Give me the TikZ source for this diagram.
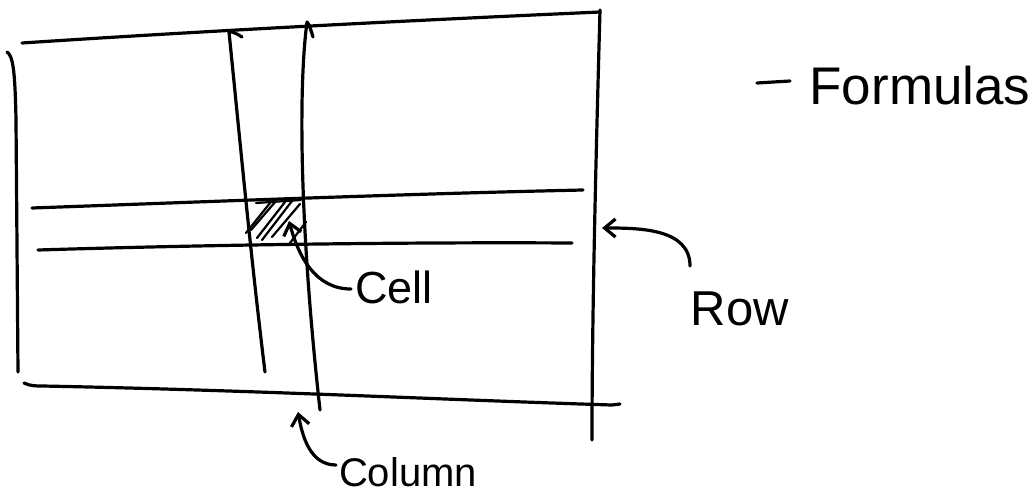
\documentclass[tikz,border=0pt]{standalone}
\usepackage{fontspec}
\setmainfont{Liberation Sans}
\usetikzlibrary{arrows.meta}
\begin{document}
\begin{tikzpicture}[x=1pt,y=-1pt,
  pen/.style={line width=3.2pt,line cap=round,line join=round},
  hatch/.style={line width=2.2pt,line cap=round},
  pointer/.style={pen,-{Straight Barb[length=11pt,width=18pt,line width=3.2pt]}},
  label/.style={inner sep=0pt}]
\useasboundingbox (0,0) rectangle (1034,495);
% sheet outline
\draw[pen] (7,52) .. controls (13,56) and (15,70) .. (16,120) -- (18,372);
\draw[pen] (22,43) .. controls (220,30) and (420,20) .. (600,12);
\draw[pen] (600,10) .. controls (597,120) and (592,300) .. (592,440);
\draw[pen] (24,383) .. controls (30,386) and (36,386) .. (42,386) .. controls (250,390) and (450,400) .. (612,405) -- (620,404);
% columns
\draw[pen] (242,37) .. controls (236,33) and (231,31) .. (229,32) .. controls (238,120) and (250,250) .. (265,372);
\draw[pen] (313,37) .. controls (311,30) and (309,24) .. (307,22) .. controls (298,90) and (300,230) .. (320,410);
% rows
\draw[pen] (32,208) .. controls (200,202) and (400,194) .. (583,190);
\draw[pen] (38,250) .. controls (200,245) and (400,242) .. (572,243);
% hatched cell
\draw[hatch] (251,230) -- (276,201);
\draw[hatch] (246,233) -- (270,203);
\draw[hatch] (257,238) -- (285,202);
\draw[hatch] (262,240) -- (292,201);
\draw[hatch] (272,237) -- (300,204);
\draw[hatch] (290,243) -- (306,222);
\draw[hatch] (256,203) -- (301,200);
% labels
\node[label,font=\fontsize{53}{58}\selectfont] (formulas) at (920,86) {Formulas};
\coordinate (dashA) at (757,83);
\coordinate (dashB) at (790,81);
\draw[pen] (dashA) -- (dashB);
\node[label,font=\fontsize{45}{50}\selectfont] (cell) at (394,287) {Cell};
\node[label,font=\fontsize{49}{54}\selectfont] (row) at (740,309) {Row};
\node[label,font=\fontsize{40}{44}\selectfont] (column) at (408,472) {Column};
% pointers
\coordinate (celltip) at (289,221);
\coordinate (rowtip) at (602,228);
\coordinate (coltip) at (298,412);
\draw[pointer] (cell.west) ++(-4,2) to[out=180,in=-75] (celltip);
\draw[pointer] (690,266) to[out=90,in=0] (rowtip);
\draw[pointer] (336,465) to[out=180,in=-80] (coltip);
\end{tikzpicture}
\end{document}
